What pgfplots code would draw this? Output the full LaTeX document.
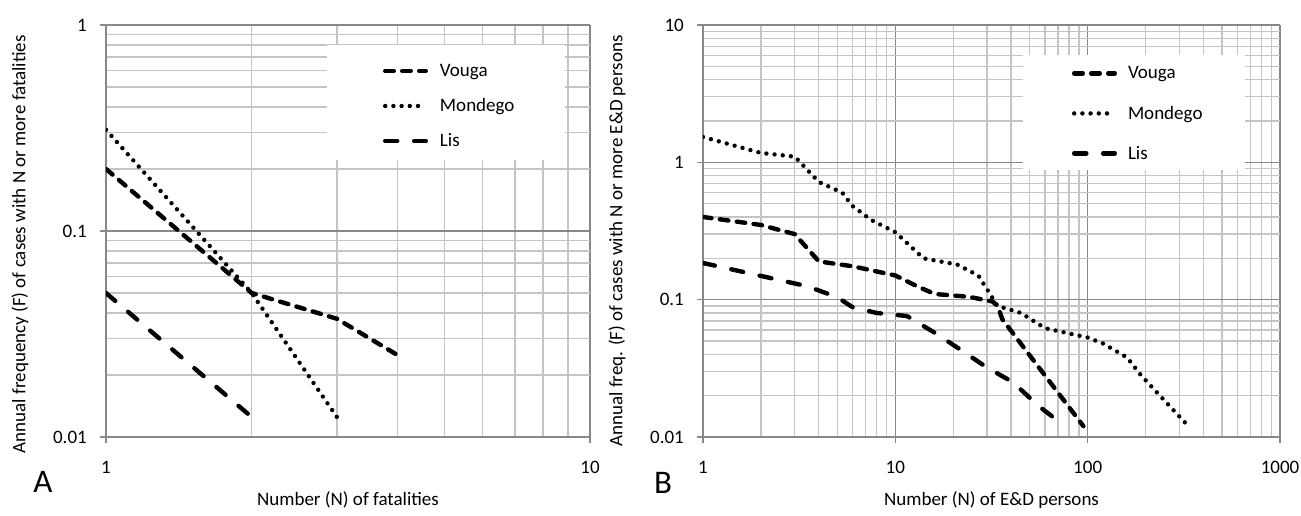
\documentclass[border=0pt]{standalone}
\usepackage{fontspec}
\setmainfont{Carlito}
\usepackage{pgfplots}
\usepackage{pgfplotstable}
\pgfplotsset{compat=1.18}
\definecolor{majgrid}{HTML}{888888}
\definecolor{mingrid}{HTML}{C4C4C4}

\pgfplotstableread{
N F
1 0.2
2 0.05
3 0.0375
4 0.025
}\AVouga
\pgfplotstableread{
N F
1 0.31
2 0.05
3 0.0125
}\AMondego
\pgfplotstableread{
N F
1 0.05
2 0.0125
}\ALis

\pgfplotstableread{
N F
1 0.4
2 0.35
3 0.3
4 0.19
6 0.175
10 0.15
13 0.125
16 0.11
24 0.105
32 0.097
34 0.09
36 0.072
95 0.012
}\BVouga
\pgfplotstableread{
N F
1 1.53
2 1.17
3 1.1
4 0.72
5.3 0.6
6 0.48
7.5 0.38
10 0.31
14 0.2
21 0.18
27 0.15
34 0.09
45 0.08
60 0.062
100 0.053
120 0.048
160 0.038
190 0.028
330 0.0122
}\BMondego
\pgfplotstableread{
N F
1 0.185
3.5 0.125
5 0.104
6 0.088
8 0.08
11.5 0.076
16.5 0.056
22.5 0.042
30 0.032
41 0.025
55 0.017
76 0.012
}\BLis

\tikzset{
  vouga/.style={black, line width=4.4pt, line cap=round, line join=round, dash pattern=on 8.6pt off 8.4pt},
  mondego/.style={black, line width=4.4pt, line cap=round, line join=round, dash pattern=on 0pt off 8.2pt},
  lis/.style={black, line width=4.4pt, line cap=round, line join=round, dash pattern=on 12.1pt off 16.9pt},
}
\pgfplotsset{
  legend image code/.code={\draw[#1] (2.2pt,0pt) -- (42.8pt,0pt);},
}

\begin{document}
\begin{tikzpicture}
\useasboundingbox (0pt,0pt) rectangle (1301pt,516pt);

\begin{axis}[
  xmode=log, ymode=log,
  scale only axis,
  height=412pt,
  axis lines*=left,
  tick align=outside,
  major tick length=6pt,
  minor tick length=0pt,
  xmajorgrids, ymajorgrids, xminorgrids, yminorgrids,
  major grid style={draw=majgrid, line width=1.3pt},
  minor grid style={draw=mingrid, line width=1.3pt},
  axis line style={draw=majgrid, line width=1.3pt},
  tick style={draw=majgrid, line width=1.3pt},
  tick label style={font=\fontsize{19}{22}\selectfont},
  label style={font=\fontsize{19}{22}\selectfont},
  xticklabel style={yshift=-14.5pt},
  yticklabel style={xshift=-9.7pt},
  legend cell align=left,
  at={(106pt,79pt)}, anchor=south west,
  width=484pt,
  xmin=1, xmax=10, ymin=0.01, ymax=1,
  xtick={1,10}, xticklabels={1,10},
  ytick={0.01,0.1,1}, yticklabels={0.01,0.1,1},
  minor xtick={2,3,4,5,6,7,8,9},
  minor ytick={0.02,0.03,0.04,0.05,0.06,0.07,0.08,0.09,0.2,0.3,0.4,0.5,0.6,0.7,0.8,0.9},
  xlabel={Number (N) of fatalities},
  ylabel={Annual frequency (F) of cases with N or more fatalities},
  xlabel style={at={(rel axis cs:0.5,-0.1529)}, anchor=center},
  ylabel style={at={(rel axis cs:-0.1777,0.468)}, anchor=center},
  legend style={at={(rel axis cs:0.5723,0.9308)}, anchor=north west,
    draw=none, fill=none, inner sep=0pt, outer sep=0pt, row sep=0pt,
    font=\fontsize{19}{22}\selectfont,
    nodes={inner sep=0pt, minimum height=35pt},
    /tikz/every odd column/.append style={column sep=12pt}},
]
\fill[white] (rel axis cs:0.4566,0.6723) rectangle (rel axis cs:0.9483,0.9515);
\addplot[vouga, mark=none] table[x=N,y=F] {\AVouga};
\addplot[mondego, mark=none] table[x=N,y=F] {\AMondego};
\addplot[lis, mark=none] table[x=N,y=F] {\ALis};
\legend{Vouga,Mondego,Lis}
\end{axis}

\begin{axis}[
  xmode=log, ymode=log,
  scale only axis,
  height=412pt,
  axis lines*=left,
  tick align=outside,
  major tick length=6pt,
  minor tick length=0pt,
  xmajorgrids, ymajorgrids, xminorgrids, yminorgrids,
  major grid style={draw=majgrid, line width=1.3pt},
  minor grid style={draw=mingrid, line width=1.3pt},
  axis line style={draw=majgrid, line width=1.3pt},
  tick style={draw=majgrid, line width=1.3pt},
  tick label style={font=\fontsize{19}{22}\selectfont},
  label style={font=\fontsize{19}{22}\selectfont},
  xticklabel style={yshift=-14.5pt},
  yticklabel style={xshift=-9.7pt},
  legend cell align=left,
  at={(703pt,79pt)}, anchor=south west,
  width=577pt,
  xmin=1, xmax=1000, ymin=0.01, ymax=10,
  xtick={1,10,100,1000}, xticklabels={1,10,100,1000},
  ytick={0.01,0.1,1,10}, yticklabels={0.01,0.1,1,10},
  minor xtick={2,3,4,5,6,7,8,9,20,30,40,50,60,70,80,90,200,300,400,500,600,700,800,900},
  minor ytick={0.02,0.03,0.04,0.05,0.06,0.07,0.08,0.09,0.2,0.3,0.4,0.5,0.6,0.7,0.8,0.9,2,3,4,5,6,7,8,9},
  xlabel={Number (N) of E\&D persons},
  ylabel={Annual freq. (F) of cases with N or more E\&D persons},
  xlabel style={at={(rel axis cs:0.5,-0.1529)}, anchor=center},
  ylabel style={at={(rel axis cs:-0.1490,0.4757)}, anchor=center},
  legend style={at={(rel axis cs:0.6395,0.931)}, anchor=north west,
    draw=none, fill=none, inner sep=0pt, outer sep=0pt, row sep=0pt,
    font=\fontsize{19}{22}\selectfont,
    nodes={inner sep=0pt, minimum height=40pt},
    /tikz/every odd column/.append style={column sep=11pt}},
]
\fill[white] (rel axis cs:0.5546,0.648) rectangle (rel axis cs:0.9393,0.9272);
\addplot[vouga, mark=none] table[x=N,y=F] {\BVouga};
\addplot[mondego, mark=none] table[x=N,y=F] {\BMondego};
\addplot[lis, mark=none] table[x=N,y=F] {\BLis};
\legend{Vouga,Mondego,Lis}
\end{axis}

\node[font=\fontsize{33}{36}\selectfont] at (43pt,34pt) {A};
\node[font=\fontsize{33}{36}\selectfont] at (663pt,33pt) {B};
\end{tikzpicture}
\end{document}
